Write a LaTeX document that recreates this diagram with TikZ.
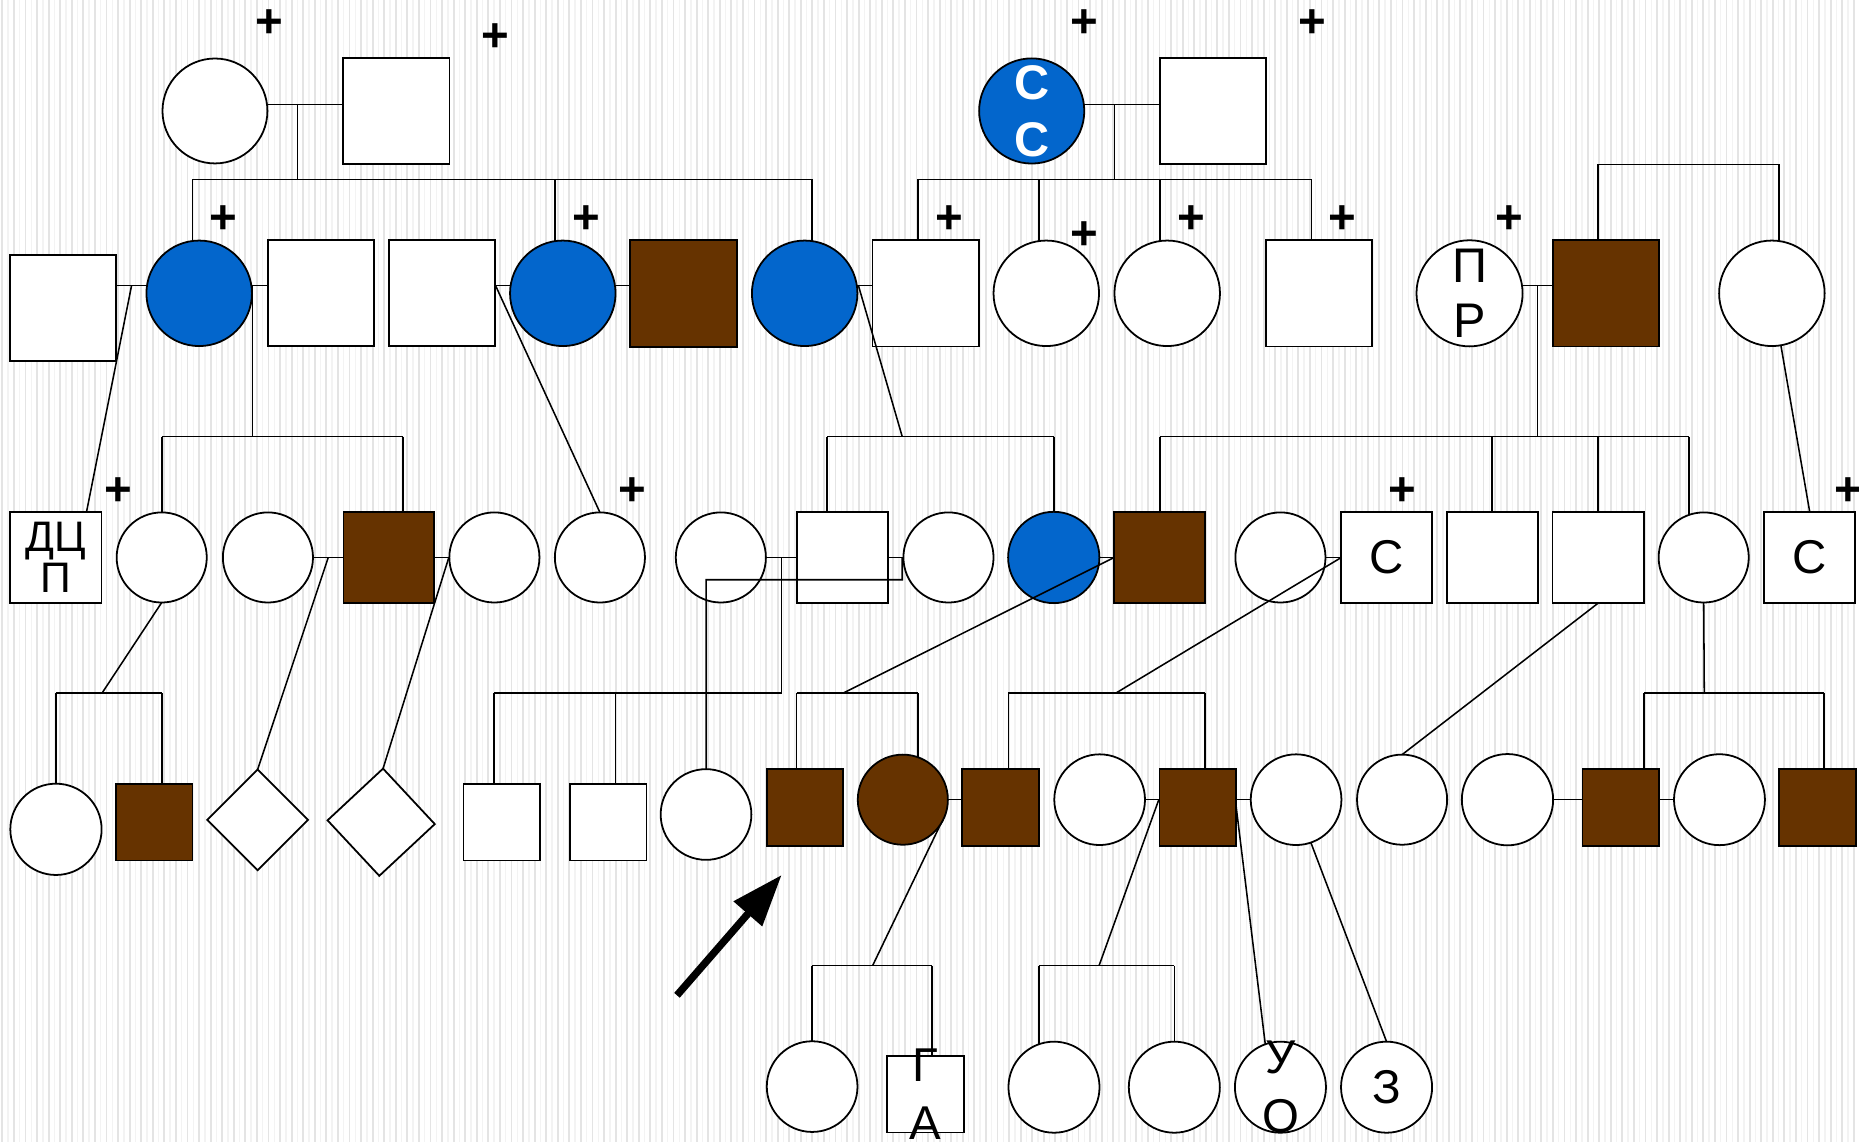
\documentclass[tikz,border=0pt]{standalone}
\usepackage{fontspec}
\setmainfont{Liberation Sans}
\usetikzlibrary{shapes.geometric,arrows.meta}
\definecolor{pedblue}{RGB}{3,102,204}
\definecolor{pedbrown}{RGB}{102,51,0}
\definecolor{stripeA}{RGB}{228,228,228}
\definecolor{stripeB}{RGB}{243,243,243}
\pgfdeclarelayer{bg}
\pgfsetlayers{bg,main}
\begin{document}
\begin{tikzpicture}[x=1pt,y=-1pt,
  shp/.style={draw=black, line width=1.5pt, inner sep=0pt, outer sep=0pt, fill=white},
  fem/.style={shp, circle, minimum size=#1},
  mal/.style={shp, rectangle, minimum width=#1, minimum height=#1},
  dia/.style={shp, diamond, minimum width=#1, minimum height=#1},
  aff/.style={fill=pedbrown},
  blu/.style={fill=pedblue},
  con/.style={draw=black, line width=1.3pt},
  lab/.style={inner sep=0pt, align=center, font=\fontsize{40}{48}\selectfont},
  dead/.style={inner sep=0pt, font=\fontsize{40}{40}\selectfont\bfseries},
]
\useasboundingbox (0,0) rectangle (1568,963);
\begin{pgfonlayer}{bg}
  \fill[white] (0,0) rectangle (1568,963);
  \foreach \k in {0,...,161} {
    \draw[stripeA, line width=1.6pt] ({\k*9.76+2},0) -- ({\k*9.76+2},963);
    \draw[stripeB, line width=1.2pt] ({\k*9.76+6.9},0) -- ({\k*9.76+6.9},963);
  }
\end{pgfonlayer}

% ---------- Generation I
\node[fem=88.5] (I1) at (181.3,93.6) {};
\node[mal=89.6] (I2) at (334.4,93.8) {};
\node[fem=88.7, blu] (I3) at (870.2,93.6) {};
\node[mal=89.4] (I4) at (1023,93.8) {};

% ---------- Generation II
\node[mal=89.4] (II1) at (53.4,260) {};
\node[fem=89, blu] (II2) at (168,247.4) {};
\node[mal=89.4] (II3) at (270.5,247.4) {};
\node[mal=89.4] (II4) at (372.5,247.4) {};
\node[fem=89, blu] (II5) at (474.7,247.4) {};
\node[mal=90, aff] (II6) at (576.7,247.4) {};
\node[fem=89, blu] (II7) at (678.7,247.4) {};
\node[mal=89.8] (II8) at (780.9,247.4) {};
\node[fem=89] (II9) at (882.5,247.4) {};
\node[fem=89] (II10) at (984.5,247.4) {};
\node[mal=89.6] (II11) at (1112.3,247.4) {};
\node[fem=89.5] (II12) at (1239.5,247.4) {};
\node[mal=89.8, aff] (II13) at (1354.5,247.4) {};
\node[fem=89] (II14) at (1494.5,247.4) {};

% ---------- Generation III
\node[mal=77] (III1) at (47.2,470.2) {};
\node[fem=76] (III2) at (136.4,470.2) {};
\node[fem=76] (III3) at (226,470.2) {};
\node[mal=76.6, aff] (III4) at (328,470.2) {};
\node[fem=76] (III5) at (417,470.2) {};
\node[fem=76] (III6) at (506,470.2) {};
\node[fem=76] (III7) at (608,470.2) {};
\node[mal=77] (III8) at (710.5,470.2) {};
\node[fem=76] (III9) at (800,470.2) {};
\node[fem=77, blu] (III10) at (888.8,470.2) {};
\node[mal=77, aff] (III11) at (977.8,470.2) {};
\node[fem=76] (III12) at (1080,470.2) {};
\node[mal=77] (III13) at (1169.5,470.2) {};
\node[mal=77] (III14) at (1258.75,470.2) {};
\node[mal=77] (III15) at (1348,470.2) {};
\node[fem=76] (III16) at (1437,470.2) {};
\node[mal=77] (III17) at (1526.3,470.2) {};

% ---------- Generation IV
\node[fem=77] (IV1) at (47.2,699.5) {};
\node[mal=64.6, aff] (IV2) at (130,693.5) {};
\node[dia=85] (IV3) at (217.3,691.5) {};
\node[dia=90.5, rotate=-2] (IV4) at (321.5,693.5) {};
\node[mal=64.6] (IV5) at (423.2,693.5) {};
\node[mal=64.6] (IV6) at (513,693.5) {};
\node[fem=76.5] (IV7) at (595.5,687) {};
\node[mal=64.6, aff] (IV8) at (679,681) {};
\node[fem=76, aff] (IV9) at (761.5,674.5) {};
\node[mal=64.6, aff] (IV10) at (844,681) {};
\node[fem=76.5] (IV11) at (927.5,674.5) {};
\node[mal=64.6, aff] (IV12) at (1010.3,681) {};
\node[fem=76.5] (IV13) at (1093.2,674.5) {};
\node[fem=76] (IV14) at (1182.6,674.5) {};
\node[fem=77] (IV15) at (1271.5,674.5) {};
\node[mal=64.6, aff] (IV16) at (1367,681) {};
\node[fem=76.7] (IV17) at (1450.3,674.5) {};
\node[mal=65, aff] (IV18) at (1533,681) {};

% ---------- Generation V
\node[fem=76.5] (V1) at (685,916.5) {};
\node[mal=64.6] (V2) at (780.5,923) {};
\node[fem=76.8] (V3) at (889,917) {};
\node[fem=76.8] (V4) at (990.5,917) {};
\node[fem=76.8] (V5) at (1080,917) {};
\node[fem=76.8] (V6) at (1169.5,917) {};

% ---------- junction coordinates
\coordinate (mA) at (251.1,88);
\coordinate (sA1) at (162.2,151.3);
\coordinate (sA2) at (468.2,151.3);
\coordinate (sA3) at (684.7,151.3);
\coordinate (mB) at (940,88);
\coordinate (sB1) at (774.2,151.3);
\coordinate (sB2) at (876.5,151.3);
\coordinate (sB3) at (978.4,151.3);
\coordinate (sB4) at (1106,151.3);
\coordinate (mC) at (111,240.7);
\coordinate (dA) at (73,431.7);
\coordinate (mD) at (212.8,240.7);
\coordinate (sD) at (212.8,368.3);
\coordinate (sD1) at (136.6,368.3);
\coordinate (sD2) at (340,368.3);
\coordinate (mE) at (417.9,240.7);
\coordinate (mF) at (724,240.7);
\coordinate (sF) at (761,368.3);
\coordinate (sF1) at (697.6,368.3);
\coordinate (sF2) at (889,368.3);
\coordinate (mG) at (1296.7,240.7);
\coordinate (sG) at (1296.7,368.3);
\coordinate (sG1) at (978.3,368.3);
\coordinate (sG2) at (1258.6,368.3);
\coordinate (sG3) at (1348,368.3);
\coordinate (sG4) at (1424.6,368.3);
\coordinate (tH1) at (1348,138.6);
\coordinate (tH2) at (1500.6,138.6);
\coordinate (dB) at (1526.4,431.7);
\coordinate (sI0) at (86,584.7);
\coordinate (sI1) at (47.2,584.7);
\coordinate (sI2) at (136.7,584.7);
\coordinate (mJ) at (276.8,470.4);
\coordinate (mK) at (378.5,470.4);
\coordinate (mL) at (659,470.4);
\coordinate (sL) at (659,584.7);
\coordinate (sL1) at (416.8,584.7);
\coordinate (sL2) at (519.2,584.7);
\coordinate (mM) at (761,470.4);
\coordinate (mM1) at (761,489);
\coordinate (mM2) at (595.6,489);
\coordinate (mN) at (939.3,470.4);
\coordinate (sN) at (711,584.7);
\coordinate (sN1) at (672,584.7);
\coordinate (sN2) at (774.2,584.7);
\coordinate (mP) at (1131,470.4);
\coordinate (sP) at (941,584.7);
\coordinate (sP1) at (850.6,584.7);
\coordinate (sP2) at (1016.3,584.7);
\coordinate (sQ) at (1437.5,584.7);
\coordinate (sQ1) at (1386.8,584.7);
\coordinate (sQ2) at (1538.5,584.7);
\coordinate (mR) at (805,674.2);
\coordinate (sR) at (736,814.5);
\coordinate (sR1) at (685,814.5);
\coordinate (sR2) at (786,814.5);
\coordinate (mS) at (977.5,674.2);
\coordinate (sS) at (927,814.5);
\coordinate (sS1) at (876.5,814.5);
\coordinate (sS2) at (990.6,814.5);
\coordinate (mT) at (1042.6,680);
\coordinate (dT) at (1067.6,884);
\coordinate (arT) at (571,839.5);
\coordinate (arH) at (659.3,738);

% ---------- connectors behind the symbols
\begin{pgfonlayer}{bg}
  % generation I
  \draw[con] (I1.center |- mA) -- (I2.center |- mA);
  \draw[con] (mA) -- (mA |- sA1);
  \draw[con] (sA1) -- (sA3);
  \draw[con] (sA1) -- (II2.center -| sA1);
  \draw[con] (sA2) -- (II5.center -| sA2);
  \draw[con] (sA3) -- (II7.center -| sA3);
  \draw[con] (I3.center |- mB) -- (I4.center |- mB);
  \draw[con] (mB) -- (mB |- sB1);
  \draw[con] (sB1) -- (sB4);
  \draw[con] (sB1) -- (II8.center -| sB1);
  \draw[con] (sB2) -- (II9.center -| sB2);
  \draw[con] (sB3) -- (II10.center -| sB3);
  \draw[con] (sB4) -- (II11.center -| sB4);
  % generation II
  \draw[con] (II1.center |- mC) -- (II2.center |- mC);
  \draw[con] (mC) -- (dA);
  \draw[con] (II2.center |- mD) -- (II3.center |- mD);
  \draw[con] (mD) -- (sD);
  \draw[con] (sD1) -- (sD2);
  \draw[con] (sD1) -- (III2.center -| sD1);
  \draw[con] (sD2) -- (III4.center -| sD2);
  \draw[con] (II4.center |- mE) -- (II5.center |- mE);
  \draw[con] (II5.center |- mE) -- (II6.center |- mE);
  \draw[con] (mE) -- (III6.north);
  \draw[con] (II7.center |- mF) -- (II8.center |- mF);
  \draw[con] (sF1) -- (sF2);
  \draw[con] (sF1) -- (III8.center -| sF1);
  \draw[con] (sF2) -- (III10.center -| sF2);
  \draw[con] (II12.center |- mG) -- (II13.center |- mG);
  \draw[con] (mG) -- (sG);
  \draw[con] (sG1) -- (sG4);
  \draw[con] (sG1) -- (III11.center -| sG1);
  \draw[con] (sG2) -- (III14.center -| sG2);
  \draw[con] (sG3) -- (III15.center -| sG3);
  \draw[con] (sG4) -- (III16.center -| sG4);
  \draw[con] (II13.center -| tH1) -- (tH1) -- (tH2) -- (II14.center -| tH2);
  \draw[con] (II14) -- (dB);
  % generation III
  \draw[con] (III2.south) -- (sI0);
  \draw[con] (sI1) -- (sI2);
  \draw[con] (sI1) -- (IV1.center -| sI1);
  \draw[con] (sI2) -- (IV2.center -| sI2);
  \draw[con] (III3.center |- mJ) -- (III4.center |- mJ);
  \draw[con] (mJ) -- (IV3.north);
  \draw[con] (III4.center |- mK) -- (III5.center |- mK);
  \draw[con] (mK) -- (IV4.north);
  \draw[con] (III7.center |- mL) -- (III8.center |- mL);
  \draw[con] (mL) -- (sL) -- (sL1);
  \draw[con] (sL1) -- (IV5.center -| sL1);
  \draw[con] (sL2) -- (IV6.center -| sL2);
  \draw[con] (III8.center |- mL) -- (III9.center |- mL);
  \draw[con] (III10.center |- mN) -- (III11.center |- mN);
  \draw[con] (sN1) -- (sN2);
  \draw[con] (sN1) -- (IV8.center -| sN1);
  \draw[con] (sN2) -- (IV9.center -| sN2);
  \draw[con] (III12.center |- mP) -- (III13.center |- mP);
  \draw[con] (sP1) -- (sP2);
  \draw[con] (sP1) -- (IV10.center -| sP1);
  \draw[con] (sP2) -- (IV12.center -| sP2);
  \draw[con] (III15.south) -- (IV14.north);
  \draw[con] (III16.south) -- (sQ);
  \draw[con] (sQ1) -- (sQ2);
  \draw[con] (sQ1) -- (IV16.center -| sQ1);
  \draw[con] (sQ2) -- (IV18.center -| sQ2);
  % generation IV
  \draw[con] (IV9.center |- mR) -- (IV10.center |- mR);
  \draw[con] (IV9.-18) -- (sR);
  \draw[con] (sR1) -- (sR2);
  \draw[con] (sR1) -- (V1.center -| sR1);
  \draw[con] (sR2) -- (V2.center -| sR2);
  \draw[con] (IV11.center |- mR) -- (IV12.center |- mR);
  \draw[con] (mS) -- (sS);
  \draw[con] (sS1) -- (sS2);
  \draw[con] (sS1) -- (V3.center -| sS1);
  \draw[con] (sS2) -- (V4.center -| sS2);
  \draw[con] (IV12.center |- mR) -- (IV13.center |- mR);
  \draw[con] (mT) -- (dT);
  \draw[con] (IV13.-71) -- (V6.north);
  \draw[con] (IV15.center |- mR) -- (IV16.center |- mR);
  \draw[con] (IV16.center |- mR) -- (IV17.center |- mR);
\end{pgfonlayer}

% ---------- connectors drawn over the symbols
\draw[con] (mF) -- (sF);
\draw[con] (mM) -- (mM1) -- (mM2) -- (IV7.north);
\draw[con] (mN) -- (sN);
\draw[con] (mP) -- (sP);

% ---------- proband arrow
\draw[line width=6.2pt, -{Triangle[length=43.5pt,width=30.5pt]}] (arT) -- (arH);

% ---------- labels
\node[lab, text=white, font=\fontsize{41}{48}\selectfont\bfseries] (tI3) at (I3) {С\\С};
\node[lab, font=\fontsize{41}{47}\selectfont] (tII12) at (II12) {П\\Р};
\node[lab, font=\fontsize{36}{35}\selectfont] (tIII1) at (III1) {ДЦ\\П};
\node[lab] (tIII13) at (III13) {С};
\node[lab] (tIII17) at (III17) {С};
\node[lab, font=\fontsize{40}{49}\selectfont] (tV2) at (V2) {Г\\А};
\node[lab, font=\fontsize{40}{50}\selectfont] (tV5) at (V5) {У\\О};
\node[lab] (tV6) at (V6) {З};

% ---------- deceased marks
\node[dead] (p1) at (227,19.5) {+};
\node[dead] (p2) at (418,32) {+};
\node[dead] (p3) at (915,19.5) {+};
\node[dead] (p4) at (1107,19.5) {+};
\node[dead] (p5) at (188,185.5) {+};
\node[dead] (p6) at (494.5,185.5) {+};
\node[dead] (p7) at (800.6,185.5) {+};
\node[dead] (p8) at (915,198.5) {+};
\node[dead] (p9) at (1005,185.5) {+};
\node[dead] (p10) at (1132,185.5) {+};
\node[dead] (p11) at (1273,185.5) {+};
\node[dead] (p12) at (99.4,414.5) {+};
\node[dead] (p13) at (533,414.5) {+};
\node[dead] (p14) at (1183,414.5) {+};
\node[dead] (p15) at (1559,414.5) {+};
\end{tikzpicture}
\end{document}
